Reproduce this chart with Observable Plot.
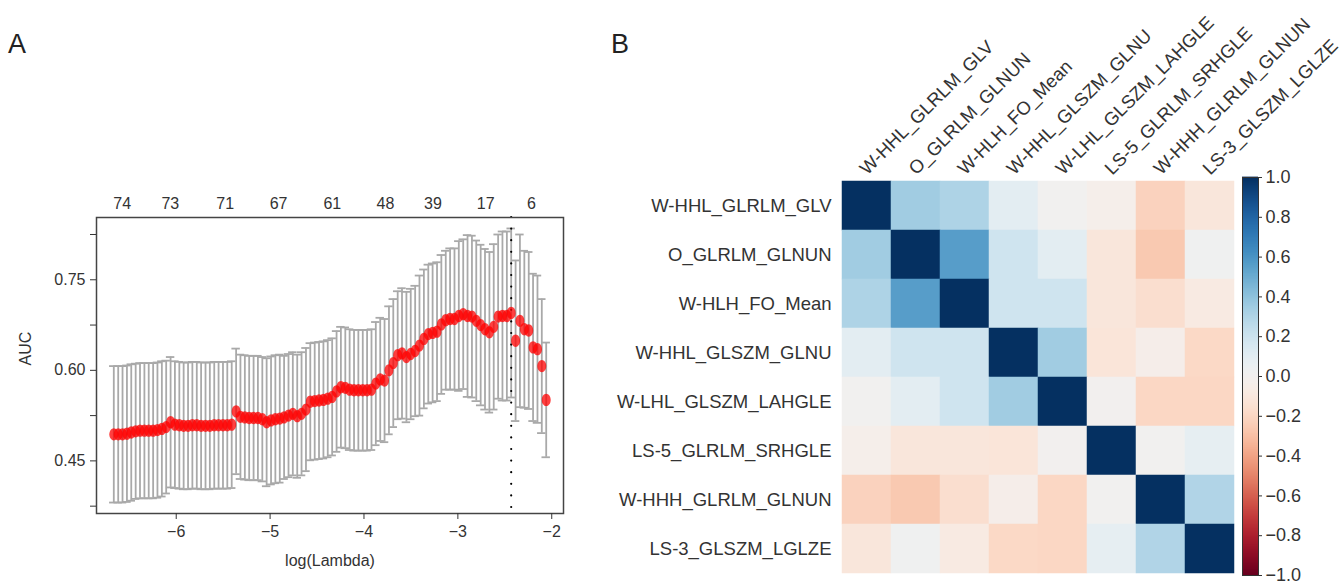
<!DOCTYPE html>
<html><head><meta charset="utf-8">
<script src="https://cdn.jsdelivr.net/npm/d3@7"></script>
<script src="https://cdn.jsdelivr.net/npm/@observablehq/plot@0.6"></script>
<style>
html,body{margin:0;padding:0;background:#fff;}
#root{position:relative;width:1344px;height:581px;overflow:hidden;font-family:"Liberation Sans",Arial,Helvetica,sans-serif;}
.panel{position:absolute;top:0;}
.tag{position:absolute;font-size:27px;line-height:1;color:#222;}
</style></head><body><div id="root"></div>
<script>
// ---------- Panel A data (cv.glmnet AUC curve) ----------
const logLambda = [
 -6.665,-6.618,-6.572,-6.525,-6.479,-6.432,-6.386,-6.339,-6.293,-6.246,
 -6.200,-6.153,-6.107,-6.060,-6.014,-5.967,-5.921,-5.874,-5.828,-5.781,
 -5.735,-5.688,-5.642,-5.595,-5.549,-5.502,-5.456,-5.409,-5.362,-5.316,
 -5.269,-5.223,-5.176,-5.130,-5.083,-5.037,-4.990,-4.944,-4.897,-4.851,
 -4.804,-4.758,-4.711,-4.665,-4.618,-4.572,-4.525,-4.479,-4.432,-4.386,
 -4.339,-4.292,-4.246,-4.199,-4.153,-4.106,-4.060,-4.013,-3.967,-3.920,
 -3.874,-3.827,-3.781,-3.734,-3.688,-3.641,-3.595,-3.548,-3.502,-3.455,
 -3.409,-3.362,-3.315,-3.269,-3.222,-3.176,-3.129,-3.083,-3.036,-2.990,
 -2.943,-2.897,-2.850,-2.804,-2.757,-2.711,-2.664,-2.618,-2.571,-2.525,
 -2.478,-2.432,-2.385,-2.339,-2.292,-2.245,-2.199,-2.152,-2.106,-2.059];
const aucMean = [
 0.494,0.494,0.494,0.495,0.497,0.499,0.500,0.500,0.500,0.500,
 0.501,0.503,0.506,0.514,0.510,0.509,0.508,0.508,0.509,0.509,
 0.508,0.508,0.508,0.509,0.509,0.509,0.509,0.510,0.532,0.523,
 0.522,0.521,0.521,0.521,0.519,0.514,0.517,0.519,0.520,0.522,
 0.525,0.528,0.524,0.528,0.535,0.548,0.549,0.550,0.551,0.553,
 0.556,0.565,0.572,0.571,0.568,0.567,0.567,0.567,0.567,0.568,
 0.578,0.585,0.583,0.600,0.612,0.625,0.628,0.622,0.627,0.632,
 0.641,0.652,0.660,0.662,0.664,0.676,0.683,0.685,0.685,0.690,
 0.693,0.690,0.689,0.682,0.675,0.668,0.663,0.672,0.689,0.690,
 0.690,0.695,0.649,0.682,0.668,0.666,0.638,0.635,0.607,0.551];
const aucSD = [
 0.113,0.113,0.113,0.113,0.113,0.112,0.112,0.112,0.112,0.112,
 0.112,0.112,0.110,0.108,0.105,0.105,0.105,0.105,0.105,0.105,
 0.105,0.105,0.105,0.105,0.105,0.105,0.105,0.105,0.104,0.103,
 0.103,0.103,0.103,0.103,0.103,0.106,0.106,0.106,0.106,0.102,
 0.102,0.102,0.102,0.102,0.102,0.097,0.097,0.097,0.097,0.097,
 0.097,0.100,0.100,0.100,0.100,0.100,0.100,0.100,0.100,0.100,
 0.102,0.102,0.102,0.106,0.106,0.106,0.108,0.108,0.108,0.108,
 0.116,0.115,0.115,0.115,0.115,0.115,0.115,0.117,0.117,0.124,
 0.124,0.134,0.134,0.133,0.133,0.133,0.133,0.137,0.136,0.140,
 0.140,0.140,0.133,0.143,0.130,0.130,0.122,0.122,0.111,0.095];
const lambdaMinLog = -2.432;
const topTickPos = [-6.575,-6.063,-5.479,-4.910,-4.337,-3.772,-3.266,-2.704,-2.216];
const topTickLabels = ["74","73","71","67","61","48","39","17","6"];
const xTicks = [-6,-5,-4,-3,-2];
const yTicks = [0.375,0.45,0.525,0.60,0.675,0.75,0.825];
const yTickLabels = ["","0.45","","0.60","","0.75",""];

// ---------- Panel B data (correlation heatmap) ----------
const features = ["W-HHL_GLRLM_GLV","O_GLRLM_GLNUN","W-HLH_FO_Mean","W-HHL_GLSZM_GLNU",
  "W-LHL_GLSZM_LAHGLE","LS-5_GLRLM_SRHGLE","W-HHH_GLRLM_GLNUN","LS-3_GLSZM_LGLZE"];
const corrRow1 = [ 1.00, 0.35, 0.31, 0.10, 0.01,-0.03,-0.22,-0.11];
const corrRow2 = [ 0.35, 1.00, 0.56, 0.19, 0.10,-0.11,-0.26, 0.02];
const corrRow3 = [ 0.31, 0.56, 1.00, 0.19, 0.19,-0.11,-0.16,-0.08];
const corrRow4 = [ 0.10, 0.19, 0.19, 1.00, 0.35,-0.12,-0.04,-0.19];
const corrRow5 = [ 0.01, 0.10, 0.19, 0.35, 1.00, 0.00,-0.20,-0.20];
const corrRow6 = [-0.03,-0.11,-0.11,-0.12, 0.00, 1.00, 0.01, 0.08];
const corrRow7 = [-0.22,-0.26,-0.16,-0.04,-0.20, 0.01, 1.00, 0.30];
const corrRow8 = [-0.11, 0.02,-0.08,-0.19,-0.20, 0.08, 0.30, 1.00];
const corr = [corrRow1,corrRow2,corrRow3,corrRow4,corrRow5,corrRow6,corrRow7,corrRow8];
const cbTicks = [1.0,0.8,0.6,0.4,0.2,0.0,-0.2,-0.4,-0.6,-0.8,-1.0];

const FONT = '"Liberation Sans", Arial, Helvetica, sans-serif';
const root = document.getElementById("root");
function place(el, left){ el.classList.add("panel"); el.style.left = left + "px"; root.appendChild(el); }

// ---------- Panel A ----------
const dataA = logLambda.map((x,i)=>({x, m: aucMean[i], sd: aucSD[i]}));
const xe = d3.extent(logLambda), xp = 0.04*(xe[1]-xe[0]);
const lo = d3.min(dataA, d=>d.m-d.sd), hi = d3.max(dataA, d=>d.m+d.sd), yp = 0.04*(hi-lo);
const capHalf = 0.045;
const ellipse = {draw(ctx, size){
  const r = Math.sqrt(size/Math.PI), rx = r*0.8, ry = r*1.1, k = 0.5523;
  ctx.moveTo(rx,0);
  ctx.bezierCurveTo(rx, ry*k, rx*k, ry, 0, ry);
  ctx.bezierCurveTo(-rx*k, ry, -rx, ry*k, -rx, 0);
  ctx.bezierCurveTo(-rx, -ry*k, -rx*k, -ry, 0, -ry);
  ctx.bezierCurveTo(rx*k, -ry, rx, -ry*k, rx, 0);
  ctx.closePath();
}};
const plotA = Plot.plot({
  width: 600, height: 581,
  marginLeft: 96, marginRight: 37, marginTop: 217, marginBottom: 68,
  style: {fontFamily: FONT, fontSize: "16px", color: "#333", background: "transparent", overflow: "visible"},
  x: {domain: [xe[0]-xp, xe[1]+xp]},
  y: {domain: [lo-yp, hi+yp]},
  marks: [
    Plot.ruleX(dataA, {x: "x", y1: d=>d.m-d.sd, y2: d=>d.m+d.sd, stroke: "#a9a9a9", strokeWidth: 1.8}),
    Plot.ruleY(dataA, {y: d=>d.m+d.sd, x1: d=>d.x-capHalf, x2: d=>d.x+capHalf, stroke: "#a9a9a9", strokeWidth: 1.8}),
    Plot.ruleY(dataA, {y: d=>d.m-d.sd, x1: d=>d.x-capHalf, x2: d=>d.x+capHalf, stroke: "#a9a9a9", strokeWidth: 1.8}),
    Plot.ruleX([lambdaMinLog], {stroke: "#000", strokeWidth: 2.2, strokeDasharray: "0,11.6", strokeLinecap: "round"}),
    Plot.dot(dataA, {x: "x", y: "m", r: 5.6, fill: "#ff0000", fillOpacity: 0.75, symbol: ellipse}),
    Plot.frame({stroke: "#444", strokeWidth: 1.5}),
    Plot.axisX({ticks: xTicks, tickSize: 6, tickPadding: 6, label: null, fontSize: 16, tickFormat: d3.format("d")}),
    Plot.axisX({anchor: "top", ticks: topTickPos, tickSize: 0, tickPadding: 9, label: null, fontSize: 16,
      tickFormat: d => topTickLabels[topTickPos.indexOf(d)]}),
    Plot.axisY({ticks: yTicks, tickSize: 6, tickPadding: 5, label: null, fontSize: 16,
      tickFormat: d => yTickLabels[yTicks.indexOf(d)]}),
    Plot.text(["AUC"], {text: d=>d, frameAnchor: "left", dx: -71, rotate: -90, fontSize: 16, fill: "#333"}),
    Plot.text(["log(Lambda)"], {text: d=>d, frameAnchor: "bottom", dy: 52, fontSize: 16, fill: "#333"})
  ]
});
place(plotA, 0);

// ---------- Panel B heatmap ----------
const cells = features.flatMap((r,i)=>features.map((c,j)=>({row: r, col: c, v: corr[i][j]})));
const plotB = Plot.plot({
  width: 650, height: 581,
  marginLeft: 239, marginRight: 14, marginTop: 178, marginBottom: 6,
  style: {fontFamily: FONT, fontSize: "18.5px", color: "#333", background: "transparent", overflow: "visible"},
  x: {domain: features, padding: 0},
  y: {domain: features, padding: 0},
  color: {type: "linear", scheme: "rdbu", domain: [-1, 1]},
  marks: [
    Plot.cell(cells, {x: "col", y: "row", fill: "v", stroke: "v", strokeWidth: 0.5}),
    Plot.axisX({anchor: "top", tickSize: 0, tickPadding: 7, tickRotate: -45, dx: -4, label: null, fontSize: 18.5}),
    Plot.axisY({tickSize: 0, tickPadding: 8, label: null, fontSize: 18.5})
  ]
});
place(plotB, 600);

// ---------- Panel B colour bar ----------
const cbStep = 0.005;
const cbStops = d3.range(-1, 1, cbStep);
const plotC = Plot.plot({
  width: 144, height: 581,
  marginLeft: 42, marginRight: 86, marginTop: 177, marginBottom: 6,
  style: {fontFamily: FONT, fontSize: "18px", color: "#333", background: "transparent", overflow: "visible"},
  x: {domain: [0, 1], axis: null},
  y: {domain: [-1, 1]},
  color: {type: "linear", scheme: "rdbu", domain: [-1, 1]},
  marks: [
    Plot.rect(cbStops, {x1: 0, x2: 1, y1: d=>d, y2: d=>d+cbStep, fill: d=>d+cbStep/2, insetTop: -0.4, insetBottom: -0.4}),
    Plot.frame({stroke: "#333", strokeWidth: 1}),
    Plot.axisY({anchor: "right", ticks: cbTicks, tickFormat: d3.format(".1f"), tickSize: 3, tickPadding: 4, label: null, fontSize: 18})
  ]
});
place(plotC, 1200);

// ---------- panel tags ----------
[["A", 8], ["B", 611]].forEach(([t, x]) => {
  const d = document.createElement("div");
  d.className = "tag"; d.textContent = t; d.style.left = x + "px"; d.style.top = "31px";
  root.appendChild(d);
});
</script></body></html>
